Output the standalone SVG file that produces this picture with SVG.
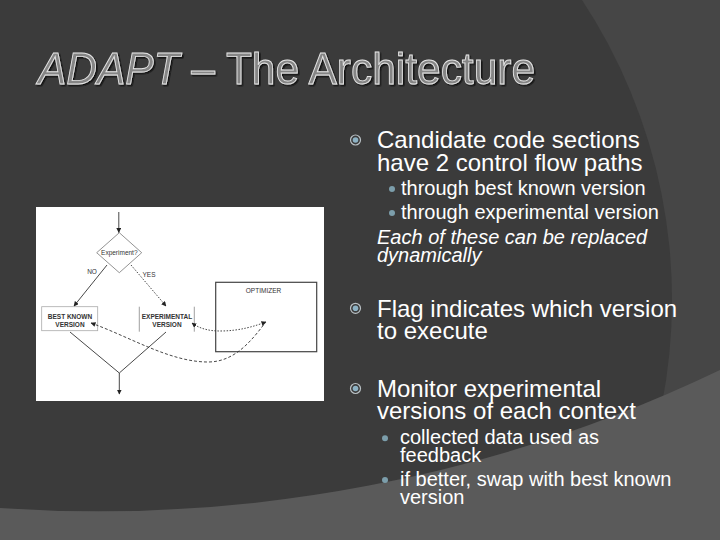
<svg xmlns="http://www.w3.org/2000/svg" width="720" height="540" viewBox="0 0 720 540">
<defs>
<marker id="ah" viewBox="0 0 10 10" refX="9" refY="5" markerWidth="5" markerHeight="5" markerUnits="userSpaceOnUse" orient="auto-start-reverse">
<path d="M0,0 L10,5 L0,10 Z" fill="#222"/>
</marker>
<filter id="shadow" x="-5%" y="-20%" width="110%" height="150%">
<feDropShadow dx="1.5" dy="1.5" stdDeviation="0.4" flood-color="#111111" flood-opacity="0.9"/>
</filter>
</defs>
<style>
.title{font-family:"Liberation Sans",Arial,sans-serif;font-size:44px}
.t1{font-family:"Liberation Sans",Arial,sans-serif;font-size:24px;fill:#ffffff}
.t2{font-family:"Liberation Sans",Arial,sans-serif;font-size:20px;fill:#ffffff}
.it{font-style:italic}
.ring{fill:none;stroke:#b9c0c4;stroke-width:1.2}
.core{fill:#8db2c4}
.dot{fill:#7c9eab}
.dl{font-family:"Liberation Sans",Arial,sans-serif;font-size:6.5px;fill:#333;text-anchor:middle}
.ln{stroke:#333;stroke-width:0.9;fill:none}
</style>
<rect width="720" height="540" fill="#464646"/>
<circle cx="127" cy="300" r="545" fill="#3b3b3b"/>
<path d="M0,508 A1440,1440 0 0 0 720,370 L720,540 L0,540 Z" fill="#5a5a5a"/>

<g id="title">
<text class="title" x="38" y="84" fill="#858585" stroke="#e6e6e6" stroke-width="0.9" filter="url(#shadow)" textLength="497" lengthAdjust="spacingAndGlyphs"><tspan class="it">ADAPT</tspan> – The Architecture</text>
</g>

<g id="figure">
<rect x="36" y="207" width="288" height="194" fill="#ffffff"/>
<g id="node-experiment">
<path d="M119.3,232.7 L141.7,252.7 L119.3,272.7 L96.7,252.7 Z" fill="none" stroke="#777" stroke-width="0.8"/>
<text class="dl" x="119.3" y="255">Experiment?</text>
</g>
<g id="node-best">
<rect x="41.7" y="306.7" width="56" height="24" fill="none" stroke="#aaa" stroke-width="0.8"/>
<text class="dl" x="70" y="318.5" font-weight="bold">BEST KNOWN</text>
<text class="dl" x="70" y="326.5" font-weight="bold">VERSION</text>
</g>
<g id="node-experimental">
<line x1="139.3" y1="306.7" x2="139.3" y2="331.7" stroke="#888" stroke-width="0.8"/>
<line x1="194.3" y1="306.7" x2="194.3" y2="331.7" stroke="#888" stroke-width="0.8"/>
<text class="dl" x="167" y="318.5" font-weight="bold">EXPERIMENTAL</text>
<text class="dl" x="167" y="326.5" font-weight="bold">VERSION</text>
</g>
<g id="node-optimizer">
<rect x="215.7" y="282.3" width="101" height="69.4" fill="none" stroke="#444" stroke-width="1.2"/>
<text class="dl" x="263.5" y="292.5">OPTIMIZER</text>
</g>
<g id="connectors">
<line class="ln" x1="118.8" y1="212" x2="118.8" y2="232.5" marker-end="url(#ah)"/>
<line class="ln" x1="107" y1="265" x2="74" y2="306" marker-end="url(#ah)"/>
<line class="ln" x1="131" y1="265" x2="166" y2="306" stroke-dasharray="1.5,1.5" marker-end="url(#ah)"/>
<text class="dl" x="92" y="274">NO</text>
<text class="dl" x="149" y="276.5">YES</text>
<polyline class="ln" points="70,332 119.3,373 166,332"/>
<line class="ln" x1="119.3" y1="373" x2="119.3" y2="394" marker-end="url(#ah)"/>
<path class="ln" d="M192,323 C200,329 210,331 220,331 C240,331 255,326 266,322" stroke-dasharray="1.5,1.5" marker-start="url(#ah)" marker-end="url(#ah)"/>
<path class="ln" d="M91,323 C130,337 170,362 208,362 C235,362 252,340 265,323" stroke-dasharray="3,2" marker-start="url(#ah)"/>
</g>
</g>

<g id="bullet1">
<circle class="ring" cx="355.5" cy="140" r="5"/><circle class="core" cx="355.5" cy="140" r="2.8"/>
<text class="t1" x="377" y="148">Candidate code sections</text>
<text class="t1" x="377" y="171">have 2 control flow paths</text>
<circle class="dot" cx="392" cy="189" r="3"/>
<text class="t2" x="401" y="195">through best known version</text>
<circle class="dot" cx="392" cy="213" r="3"/>
<text class="t2" x="401" y="219">through experimental version</text>
<text class="t2 it" x="377" y="244">Each of these can be replaced</text>
<text class="t2 it" x="377" y="261.5">dynamically</text>
</g>

<g id="bullet2">
<circle class="ring" cx="355.5" cy="308.3" r="5"/><circle class="core" cx="355.5" cy="308.3" r="2.8"/>
<text class="t1" x="377" y="316.5">Flag indicates which version</text>
<text class="t1" x="377" y="338.5">to execute</text>
</g>

<g id="bullet3">
<circle class="ring" cx="355.5" cy="388.5" r="5"/><circle class="core" cx="355.5" cy="388.5" r="2.8"/>
<text class="t1" x="377" y="396.7">Monitor experimental</text>
<text class="t1" x="377" y="418.5">versions of each context</text>
<circle class="dot" cx="385" cy="438.3" r="3"/>
<text class="t2" x="400" y="444">collected data used as</text>
<text class="t2" x="400" y="462">feedback</text>
<circle class="dot" cx="385" cy="480" r="3"/>
<text class="t2" x="400" y="486">if better, swap with best known</text>
<text class="t2" x="400" y="503.5">version</text>
</g>
</svg>
